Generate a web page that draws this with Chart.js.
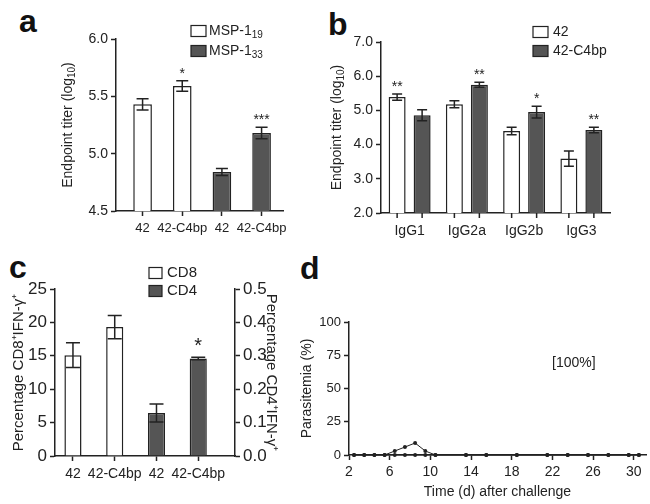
<!DOCTYPE html>
<html>
<head>
<meta charset="utf-8">
<script src="https://cdn.jsdelivr.net/npm/chart.js@4.4.1/dist/chart.umd.min.js"></script>
<style>
body { margin: 0; background: #fff; width: 650px; height: 504px; position: relative; overflow: hidden; font-family: "Liberation Sans", Arial, sans-serif; }
.panel { position: absolute; }
.letter { position: absolute; font-weight: bold; font-size: 32px; line-height: 32px; color: #111; }
</style>
</head>
<body>
<div class="letter" style="left:19px;top:5px">a</div>
<div class="letter" style="left:328px;top:8px">b</div>
<div class="letter" style="left:9px;top:251px">c</div>
<div class="letter" style="left:300px;top:252px">d</div>

<div class="panel" style="left:0;top:0;width:310px;height:250px"><canvas id="chartA"></canvas></div>
<div class="panel" style="left:320px;top:0;width:330px;height:250px"><canvas id="chartB"></canvas></div>
<div class="panel" style="left:0;top:250px;width:310px;height:254px"><canvas id="chartC"></canvas></div>
<div class="panel" style="left:290px;top:250px;width:360px;height:254px"><canvas id="chartD"></canvas></div>

<script>
// panel a
const labelsA = ['42', '42-C4bp', '42', '42-C4bp'];
const msp19 = [5.43, 5.59, null, null];
const msp19Err = [0.05, 0.045, 0, 0];
const msp19Stars = ['', '*', '', ''];
const msp33 = [null, null, 4.84, 5.18];
const msp33Err = [0, 0, 0.03, 0.05];
const msp33Stars = ['', '', '', '***'];

// panel b
const labelsB = ['IgG1', 'IgG2a', 'IgG2b', 'IgG3'];
const titer42 = [5.39, 5.18, 4.40, 3.59];
const titer42Err = [0.09, 0.10, 0.11, 0.22];
const titer42Stars = ['**', '', '', ''];
const titerC4bp = [4.86, 5.75, 4.95, 4.43];
const titerC4bpErr = [0.16, 0.07, 0.17, 0.08];
const titerC4bpStars = ['', '**', '*', '**'];

// panel c
const labelsC = ['42', '42-C4bp', '42', '42-C4bp'];
const cd8 = [15.1, 19.3, null, null];
const cd8Err = [1.85, 1.75, 0, 0];
const cd8Stars = ['', '', '', ''];
const cd4 = [null, null, 0.129, 0.292];
const cd4Err = [0, 0, 0.027, 0.004];
const cd4Stars = ['', '', '', '*'];

// panel d
const days = [2.5, 3.5, 4.5, 5.5, 6.5, 7.5, 8.5, 9.5, 10.5, 13.5, 15.5, 18.5, 21.5, 23.5, 25.5, 27.5, 29.5, 30.5];
const parasitemia1 = [0, 0, 0, 0, 3, 6, 9, 3, 0, 0, 0, 0, 0, 0, 0, 0, 0, 0];
const parasitemia2 = [0, 0, 0, 0, 0, 0, 0, 0, 0, 0, 0, 0, 0, 0, 0, 0, 0, 0];
const dayTicks = [2, 6, 10, 14, 18, 22, 26, 30];

const INK = '#222';
const DARK = '#555';
const FONT = '"Liberation Sans", Arial, sans-serif';
const SUB = '₀₁₂₃₄₅₆₇₈₉';

// text with real subscript digits drawn smaller and lower
function richWidth(ctx, text, size) {
    let w = 0;
    for (const ch of text) {
        const k = SUB.indexOf(ch);
        ctx.font = (k >= 0 ? Math.round(size * 0.72) : size) + 'px ' + FONT;
        w += ctx.measureText(k >= 0 ? String(k) : ch).width;
    }
    return w;
}

function drawRich(ctx, text, x, y, size) {
    for (const ch of text) {
        const k = SUB.indexOf(ch);
        const t = k >= 0 ? String(k) : ch;
        ctx.font = (k >= 0 ? Math.round(size * 0.72) : size) + 'px ' + FONT;
        ctx.fillText(t, x, y + (k >= 0 ? size * 0.3 : 0));
        x += ctx.measureText(t).width;
    }
}

function yOf(d) {
    return (d !== null && typeof d === 'object') ? d.y : d;
}

// error bars + significance stars on top of each bar
const errorBars = {
    id: 'errorBars',
    afterDatasetsDraw(chart, args, opts) {
        const ctx = chart.ctx;
        ctx.save();
        chart.data.datasets.forEach((ds, i) => {
            if (!ds.errors) return;
            const meta = chart.getDatasetMeta(i);
            const yScale = chart.scales[meta.yAxisID];
            meta.data.forEach((bar, j) => {
                const v = yOf(ds.data[j]);
                if (v === null || v === undefined) return;
                const e = ds.errors[j] || 0;
                const top = yScale.getPixelForValue(v + e);
                const bot = yScale.getPixelForValue(v - e);
                const half = opts.cap / 2;
                ctx.strokeStyle = INK;
                ctx.lineWidth = 1.5;
                ctx.beginPath();
                ctx.moveTo(bar.x, top); ctx.lineTo(bar.x, bot);
                ctx.moveTo(bar.x - half, top); ctx.lineTo(bar.x + half, top);
                ctx.moveTo(bar.x - half, bot); ctx.lineTo(bar.x + half, bot);
                ctx.stroke();
                const s = ds.stars && ds.stars[j];
                if (s) {
                    ctx.fillStyle = INK;
                    ctx.font = opts.starSize + 'px ' + FONT;
                    ctx.textAlign = 'center';
                    ctx.textBaseline = 'alphabetic';
                    ctx.fillText(s, bar.x, top - opts.starGap);
                }
            });
        });
        ctx.restore();
    }
};

// tick mark under every bar (panel b has two bars per group)
const barTicks = {
    id: 'barTicks',
    afterDraw(chart, args, opts) {
        if (!opts.len) return;
        const ctx = chart.ctx;
        const bottom = chart.chartArea.bottom;
        ctx.save();
        ctx.strokeStyle = INK;
        ctx.lineWidth = 1.5;
        chart.data.datasets.forEach((ds, i) => {
            chart.getDatasetMeta(i).data.forEach((bar, j) => {
                if (yOf(ds.data[j]) === null) return;
                ctx.beginPath();
                ctx.moveTo(bar.x, bottom);
                ctx.lineTo(bar.x, bottom + opts.len);
                ctx.stroke();
            });
        });
        ctx.restore();
    }
};

const boxLegend = {
    id: 'boxLegend',
    afterDraw(chart, args, o) {
        if (!o.size) return;
        const ctx = chart.ctx;
        ctx.save();
        ctx.textBaseline = 'middle';
        ctx.textAlign = 'left';
        chart.data.datasets.forEach((ds, i) => {
            const y = o.y + i * o.gap;
            ctx.fillStyle = ds.backgroundColor;
            ctx.fillRect(o.x, y - o.h / 2, o.w, o.h);
            ctx.strokeStyle = INK;
            ctx.lineWidth = 1.2;
            ctx.strokeRect(o.x, y - o.h / 2, o.w, o.h);
            ctx.fillStyle = INK;
            drawRich(ctx, ds.label, o.x + o.w + o.pad, y, o.size);
        });
        ctx.restore();
    }
};

// rotated y title with real subscripts, placed at the left edge of the y axis box
const richTitle = {
    id: 'richTitle',
    afterDraw(chart, args, o) {
        if (!o.text) return;
        const ctx = chart.ctx;
        const s = chart.scales.y;
        const area = chart.chartArea;
        const w = richWidth(ctx, o.text, o.size);
        ctx.save();
        ctx.translate(s.left + o.size * 0.6, (area.top + area.bottom) / 2);
        ctx.rotate(-Math.PI / 2);
        ctx.fillStyle = INK;
        ctx.textAlign = 'left';
        ctx.textBaseline = 'middle';
        drawRich(ctx, o.text, -w / 2, 0, o.size);
        ctx.restore();
    }
};

const noteText = {
    id: 'noteText',
    afterDraw(chart, args, o) {
        if (!o.text) return;
        const ctx = chart.ctx;
        ctx.save();
        ctx.font = o.size + 'px ' + FONT;
        ctx.fillStyle = INK;
        ctx.textAlign = 'center';
        ctx.textBaseline = 'middle';
        ctx.fillText(o.text, chart.scales.x.getPixelForValue(o.x), chart.scales.y.getPixelForValue(o.y));
        ctx.restore();
    }
};

function grid(tickColor) {
    return { display: true, drawOnChartArea: false, offset: false, tickLength: 5, tickWidth: 1.5, tickColor: tickColor || INK };
}

function yScale(min, max, step, digits, size, title, titleSize, width, position) {
    return {
        position: position || 'left',
        min: min,
        max: max,
        grid: grid(),
        border: { display: true, color: INK, width: 1.5 },
        ticks: {
            stepSize: step,
            color: INK,
            padding: 3,
            font: { family: FONT, size: size },
            callback: v => v.toFixed(digits)
        },
        title: { display: !!title, text: title, color: INK, padding: 0, font: { family: FONT, size: titleSize } },
        afterFit: s => { s.width = width; }
    };
}

// bar x axis on a linear scale, so the bar slots can sit off-centre like the original
function barXScale(labels, min, max, size) {
    return {
        type: 'linear',
        offset: false,
        min: min,
        max: max,
        grid: grid(),
        border: { display: true, color: INK, width: 1.5 },
        afterBuildTicks: s => { s.ticks = labels.map((l, i) => ({ value: i })); },
        ticks: { color: INK, padding: 5, font: { family: FONT, size: size }, maxRotation: 0, autoSkip: false, callback: v => labels[v] },
        afterFit: s => { s.height = 30; }
    };
}

function pointsOf(values) {
    return values.map((v, i) => v === null ? null : { x: i, y: v }).filter(p => p !== null);
}

function keep(list, values) {
    return list.filter((e, i) => values[i] !== null);
}

function barSet(label, data, errors, stars, fill, extra) {
    return Object.assign({
        label: label,
        data: data,
        errors: errors,
        stars: stars,
        backgroundColor: fill,
        borderColor: INK,
        borderWidth: 1.5
    }, extra || {});
}

Chart.defaults.font.family = FONT;
Chart.defaults.color = INK;

// ---- a ----
new Chart(document.getElementById('chartA'), {
    type: 'bar',
    data: {
        datasets: [
            barSet('MSP-1₁₉', pointsOf(msp19), keep(msp19Err, msp19), keep(msp19Stars, msp19), '#fff'),
            barSet('MSP-1₃₃', pointsOf(msp33), keep(msp33Err, msp33), keep(msp33Stars, msp33), DARK)
        ]
    },
    options: {
        responsive: true, maintainAspectRatio: false, animation: false, events: [],
        layout: { padding: { left: 60, top: 39, right: 27, bottom: 9 } },
        datasets: { bar: { grouped: false, categoryPercentage: 1, barPercentage: 0.47 } },
        plugins: {
            legend: { display: false }, tooltip: { enabled: false },
            errorBars: { cap: 12, starSize: 14, starGap: 3 },
            boxLegend: { x: 191, y: 31, gap: 20, w: 15, h: 11, pad: 3, size: 14 },
            richTitle: { text: 'Endpoint titer (log₁₀)', size: 14 }
        },
        scales: {
            x: barXScale(labelsA, -0.67, 3.54, 13),
            y: yScale(4.5, 6.0, 0.5, 1, 14, '', 14, 56)
        }
    },
    plugins: [errorBars, boxLegend, richTitle]
});

// ---- b ----
new Chart(document.getElementById('chartB'), {
    type: 'bar',
    data: {
        labels: labelsB,
        datasets: [
            barSet('42', titer42, titer42Err, titer42Stars, '#fff'),
            barSet('42-C4bp', titerC4bp, titerC4bpErr, titerC4bpStars, DARK)
        ]
    },
    options: {
        responsive: true, maintainAspectRatio: false, animation: false, events: [],
        layout: { padding: { left: 9, top: 42, right: 40, bottom: 7 } },
        datasets: { bar: { categoryPercentage: 0.873, barPercentage: 0.68 } },
        plugins: {
            legend: { display: false }, tooltip: { enabled: false },
            errorBars: { cap: 10, starSize: 14, starGap: 3 },
            barTicks: { len: 5 },
            boxLegend: { x: 213, y: 32, gap: 19, w: 15, h: 11, pad: 5, size: 14 },
            richTitle: { text: 'Endpoint titer (log₁₀)', size: 14 }
        },
        scales: {
            x: {
                offset: true,
                grid: grid('transparent'),
                border: { display: true, color: INK, width: 1.5 },
                ticks: { color: INK, padding: 5, font: { family: FONT, size: 14 }, maxRotation: 0, autoSkip: false },
                afterFit: s => { s.height = 30; }
            },
            y: yScale(2, 7, 1, 1, 14, '', 14, 52)
        }
    },
    plugins: [errorBars, barTicks, boxLegend, richTitle]
});

// ---- c ----
new Chart(document.getElementById('chartC'), {
    type: 'bar',
    data: {
        datasets: [
            barSet('CD8', pointsOf(cd8), keep(cd8Err, cd8), keep(cd8Stars, cd8), '#fff', { yAxisID: 'y' }),
            barSet('CD4', pointsOf(cd4), keep(cd4Err, cd4), keep(cd4Stars, cd4), DARK, { yAxisID: 'y1' })
        ]
    },
    options: {
        responsive: true, maintainAspectRatio: false, animation: false, events: [],
        layout: { padding: { left: 10, top: 39, right: 30, bottom: 18 } },
        datasets: { bar: { grouped: false, categoryPercentage: 1, barPercentage: 0.41 } },
        plugins: {
            legend: { display: false }, tooltip: { enabled: false },
            errorBars: { cap: 14, starSize: 20, starGap: 5 },
            boxLegend: { x: 149, y: 23, gap: 18, w: 13, h: 11, pad: 5, size: 15 }
        },
        scales: {
            x: barXScale(labelsC, -0.43, 3.88, 14),
            y: yScale(0, 25, 5, 0, 17, 'Percentage CD8⁺IFN-γ⁺', 15, 45),
            y1: yScale(0, 0.5, 0.1, 1, 17, 'Percentage CD4⁺IFN-γ⁺', 15, 45, 'right')
        }
    },
    plugins: [errorBars, boxLegend]
});

// ---- d ----
function lineSet(values) {
    return {
        data: days.map((d, i) => ({ x: d, y: values[i] })),
        borderColor: INK,
        borderWidth: 1,
        pointRadius: 2,
        pointBackgroundColor: INK,
        pointBorderWidth: 0,
        tension: 0,
        clip: false
    };
}

new Chart(document.getElementById('chartD'), {
    type: 'line',
    data: { datasets: [lineSet(parasitemia2), lineSet(parasitemia1)] },
    options: {
        responsive: true, maintainAspectRatio: false, animation: false, events: [],
        layout: { padding: { left: 9, top: 72, right: 0, bottom: 3 } },
        plugins: {
            legend: { display: false }, tooltip: { enabled: false },
            noteText: { text: '[100%]', x: 24.1, y: 69, size: 14 }
        },
        scales: {
            x: {
                type: 'linear',
                min: 2,
                max: 31.2,
                grid: grid(),
                border: { display: true, color: INK, width: 1.5 },
                afterBuildTicks: s => { s.ticks = dayTicks.map(v => ({ value: v })); },
                ticks: { color: INK, padding: 4, font: { family: FONT, size: 14 }, maxRotation: 0, autoSkip: false },
                title: { display: true, text: 'Time (d) after challenge', color: INK, padding: 0, font: { family: FONT, size: 14 } },
                afterFit: s => { s.height = 46; }
            },
            y: yScale(0, 100, 25, 0, 13, 'Parasitemia (%)', 14, 50)
        }
    },
    plugins: [noteText]
});
</script>
</body>
</html>
